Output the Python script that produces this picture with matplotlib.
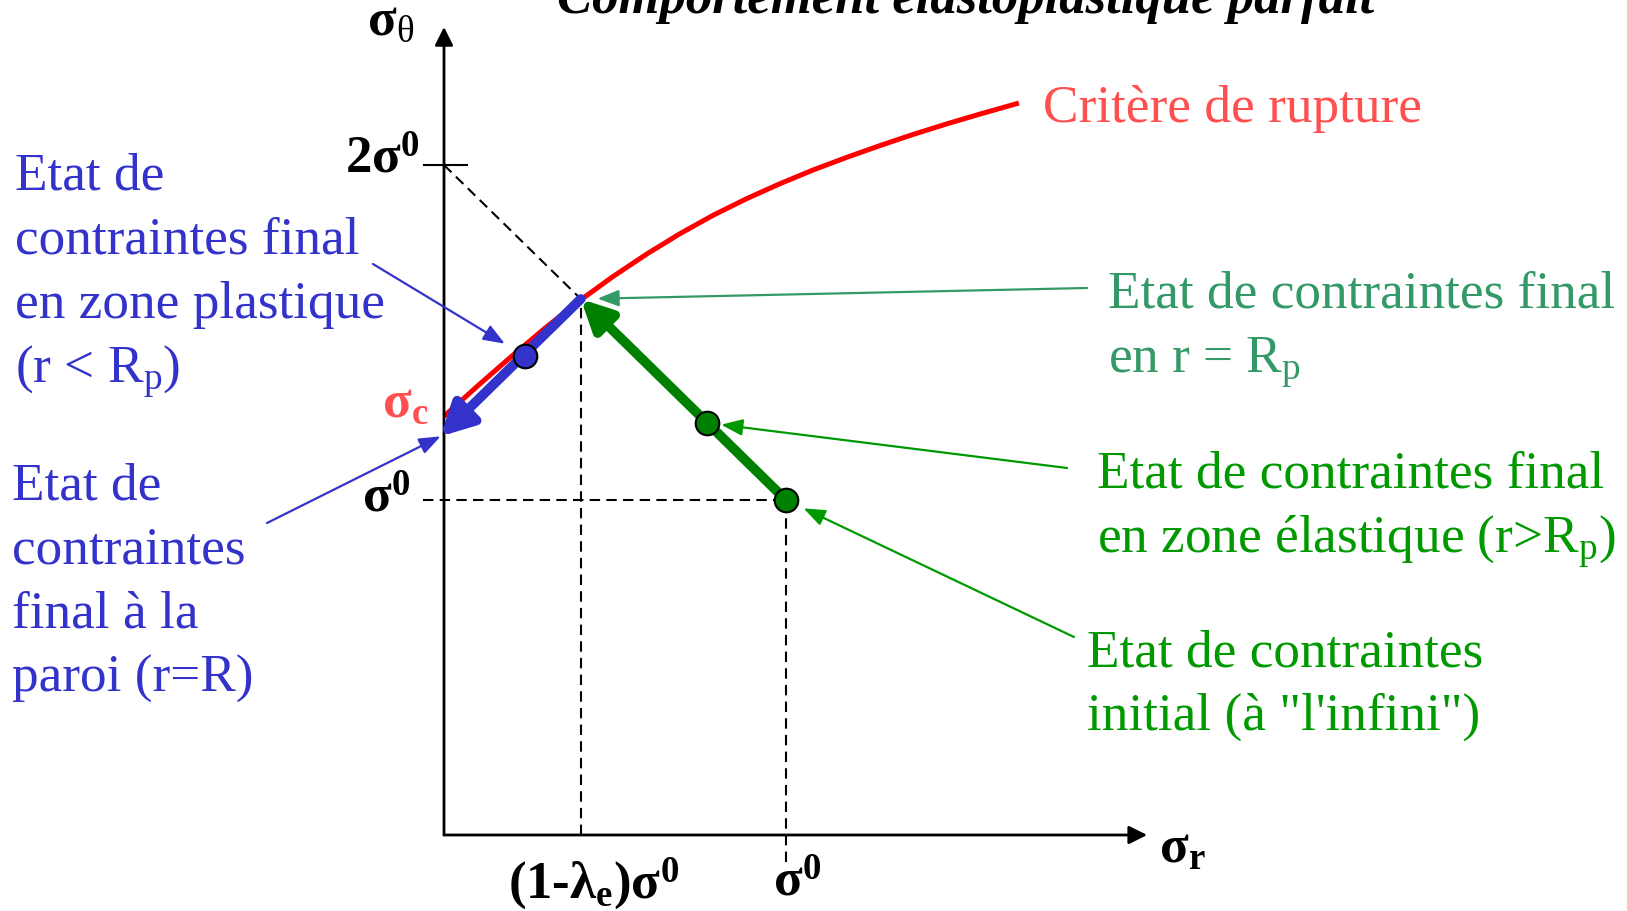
import matplotlib.pyplot as plt
import matplotlib.transforms as mtransforms

plt.rcParams['font.family'] = ['Liberation Serif', 'DejaVu Serif']
plt.rcParams['mathtext.fontset'] = 'custom'
plt.rcParams['mathtext.rm'] = 'Liberation Serif'
plt.rcParams['mathtext.it'] = 'Liberation Serif:italic'
plt.rcParams['mathtext.bf'] = 'Liberation Serif:bold'

# contraintes exprimees en unites de sigma0
sigma0 = 1.0
lambda_e = 0.60
sigma_c = 1.25

# critere de rupture : sigma_theta en fonction de sigma_r
crit_r = [0.0, 0.10, 0.20, 0.30, 0.406, 0.494, 0.594, 0.690, 0.787, 0.886, 0.982,
          1.079, 1.178, 1.275, 1.371, 1.471, 1.567, 1.681]
crit_t = [1.25, 1.342, 1.431, 1.517, 1.602, 1.667, 1.735, 1.795, 1.850, 1.900, 1.944,
          1.985, 2.023, 2.058, 2.091, 2.123, 2.152, 2.185]

# etats de contraintes (sigma_r, sigma_theta)
etat_initial = (sigma0, sigma0)
etat_elastique = (0.77, 1.23)
etat_rp = (sigma0 * (1 - lambda_e), sigma0 * (1 + lambda_e))
etat_plastique = (0.237, 1.43)
etat_paroi = (-0.01, 1.19)

W, H = 1627, 912
fig = plt.figure(figsize=(W / 100, H / 100), dpi=100)
ax = fig.add_axes([0, 0, 1, 1])
# origine des axes a (444, 836) px, 342 px / sigma0 en x, 335 px / sigma0 en y
ax.set_xlim(-444 / 342, (W - 444) / 342)
ax.set_ylim((836 - H) / 335, 836 / 335)
ax.axis('off')

# coordonnees en pixels (origine en haut a gauche)
px = mtransforms.Affine2D().scale(1 / W, -1 / H).translate(0, 1) + fig.transFigure

FS = 38.3
BLUE = '#3333CC'
SEA = '#339966'
GREEN = '#009900'
DARKGREEN = '#008000'
LRED = '#FF4F4F'


def arrow(xy, xytext, color, lw, hl, hw, textcoords='data', shrink=0, z=3):
    ax.annotate('', xy=xy, xytext=xytext, textcoords=textcoords,
                arrowprops=dict(arrowstyle='-|>,head_length=%g,head_width=%g' % (hl, hw),
                                color=color, lw=lw, shrinkA=0, shrinkB=shrink,
                                mutation_scale=1),
                zorder=z)


# axes
x_end, y_end = 2.056, 2.412
arrow((x_end, 0), (0, 0), 'black', 2, 11, 5.5)
arrow((0, y_end), (0, 0), 'black', 2, 11, 5.5)
ax.plot([-0.058, 0.067], [2 * sigma0, 2 * sigma0], color='black', lw=1.5)

# lignes de construction
dash = (0, (5, 3))
for xs, ys in [([0, etat_rp[0]], [2 * sigma0, etat_rp[1]]),
               ([etat_rp[0], etat_rp[0]], [0, etat_rp[1]]),
               ([-0.06, etat_initial[0]], [sigma0, sigma0]),
               ([etat_initial[0], etat_initial[0]], [-0.08, sigma0])]:
    ax.plot(xs, ys, color='black', lw=1.5, ls=dash)

# critere de rupture
ax.plot(crit_r, crit_t, color='red', lw=3.6, solid_capstyle='butt',
        solid_joinstyle='round', zorder=2)

# chemins de chargement
arrow(etat_rp, etat_initial, DARKGREEN, 7, 18, 9, z=3)
arrow(etat_paroi, etat_rp, BLUE, 7, 19, 10, z=3)

for pt, fc in [(etat_initial, DARKGREEN), (etat_elastique, DARKGREEN),
               (etat_plastique, BLUE)]:
    ax.plot(*pt, 'o', ms=17, mfc=fc, mec='black', mew=1.5, zorder=5)

# fleches des commentaires
arrow(etat_plastique, (373, 265), BLUE, 1.6, 13, 5, textcoords=px, shrink=17)
arrow(etat_paroi, (267, 524), BLUE, 1.6, 13, 5, textcoords=px, shrink=0)
arrow(etat_rp, (1087, 289), SEA, 1.6, 13, 5, textcoords=px, shrink=12)
arrow(etat_elastique, (1067, 469), GREEN, 1.6, 13, 5, textcoords=px, shrink=10)
arrow(etat_initial, (1074, 638), GREEN, 1.6, 13, 5, textcoords=px, shrink=14)


def bloc(lines, x, y0, step, color):
    for i, s in enumerate(lines):
        ax.text(x, y0 + i * step, s, transform=px, color=color, fontsize=FS,
                ha='left', va='baseline')


bloc(['Etat de', 'contraintes final', 'en zone plastique', '(r < R$_{\\mathrm{p}}$)'],
     15, 189, 64.5, BLUE)
bloc(['Etat de', 'contraintes', 'final à la', 'paroi (r=R)'], 12, 500, 64, BLUE)
bloc(['Etat de contraintes final', 'en r = R$_{\\mathrm{p}}$'], 1108, 308, 65, SEA)
bloc(['Etat de contraintes final', 'en zone élastique (r>R$_{\\mathrm{p}}$)'],
     1097, 488, 65, GREEN)
bloc(['Etat de contraintes', 'initial (à "l\'infini")'], 1087, 667, 63, GREEN)
ax.text(1043, 122, 'Critère de rupture', transform=px, color=LRED, fontsize=FS,
        va='baseline')

# etiquettes des axes
kw = dict(transform=px, fontsize=38, fontweight='bold', va='baseline')
ax.text(367, 35, 'σ$_{\\mathrm{θ}}$', **kw)
ax.text(1159, 863, 'σ$_{\\mathbf{r}}$', **kw)
ax.text(419, 173, '2σ$^{\\mathbf{0}}$', ha='right', **kw)
ax.text(410, 512, 'σ$^{\\mathbf{0}}$', ha='right', **kw)
ax.text(382, 417, 'σ$_{\\mathbf{c}}$', color=LRED, **kw)
ax.text(508, 898, '(1-λ$_{\\mathbf{e}}$)σ$^{\\mathbf{0}}$', **kw)
ax.text(773, 896, 'σ$^{\\mathbf{0}}$', **kw)

ax.text(966, 13, 'Comportement élastoplastique parfait', transform=px, fontsize=38,
        fontweight='bold', fontstyle='italic', ha='center', va='baseline')

fig.savefig('out.png', dpi=100)
